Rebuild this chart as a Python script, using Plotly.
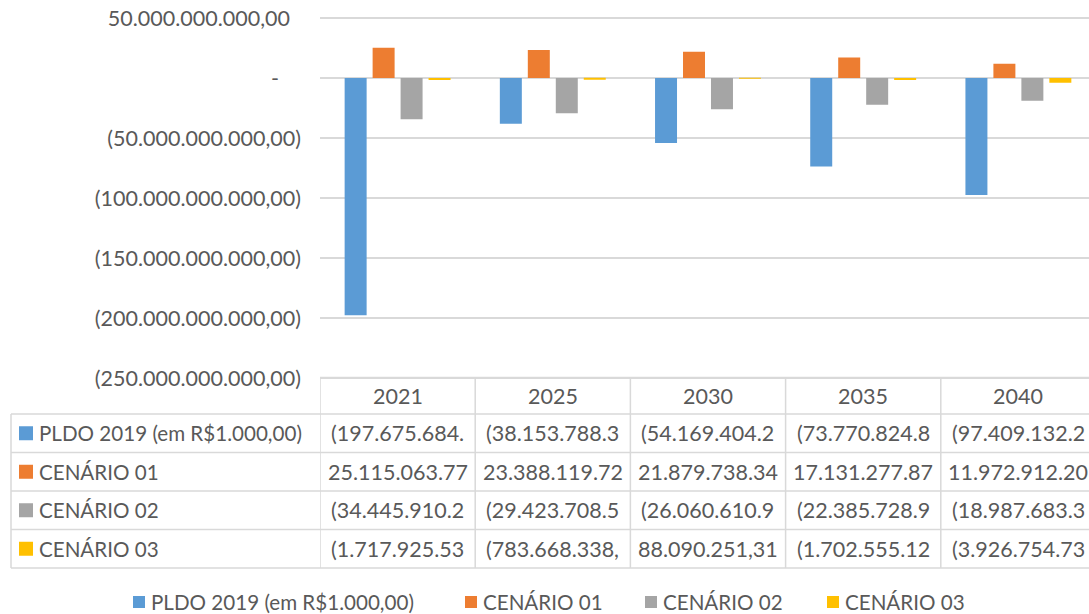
import plotly.graph_objects as go

# ---------------- data ----------------
categories = ["2021", "2025", "2030", "2035", "2040"]
series_names = ["PLDO 2019 (em R$1.000,00)", "CENÁRIO 01", "CENÁRIO 02", "CENÁRIO 03"]
pldo_2019 = [-197675684000, -38153788300, -54169404200, -73770824800, -97409132200]
cenario_01 = [25115063770, 23388119720, 21879738340, 17131277870, 11972912200]
cenario_02 = [-34445910200, -29423708500, -26060610900, -22385728900, -18987683300]
cenario_03 = [-1717925530, -783668338, 88090251.31, -1702555120, -3926754730]
y_tickvals = [50e9, 0, -50e9, -100e9, -150e9, -200e9, -250e9]

series_values = [pldo_2019, cenario_01, cenario_02, cenario_03]
colors = ["#5B9BD5", "#ED7D31", "#A5A5A5", "#FFC000"]

W, H = 1089, 614
FONT = "Lato"
FS = 21.5
FS_ROW = 20.6
TXT = "#595959"
GRID = "#D9D9D9"


def px(x):
    return x / W


def py(y):
    return 1 - y / H


NB = "\u00a0"


def fmt_br(v):
    s = f"{abs(v):,.2f}".replace(",", "X").replace(".", ",").replace("X", ".")
    return f"({s})" if v < 0 else s


def tick_label(v):
    if v == 0:
        return "-" + NB * 4
    if v > 0:
        return fmt_br(v) + NB * 2
    return fmt_br(v)


fig = go.Figure()
for name, vals, col in zip(series_names, series_values, colors):
    fig.add_trace(go.Bar(x=categories, y=vals, name=name, marker=dict(color=col, line=dict(width=0)),
                         showlegend=False))

# plot area in pixels (1.2 px per 1e9); range padded slightly so the top gridline shows
PL, PT, PB = 320, 18, 378
PAD = 1e9
fig.update_layout(
    width=W, height=H,
    margin=dict(l=0, r=0, t=0, b=0, autoexpand=False),
    paper_bgcolor="white", plot_bgcolor="white",
    barmode="group", bargap=0.279, bargroupgap=0.214,
    font=dict(family=FONT, size=FS, color=TXT),
    xaxis=dict(domain=[px(PL), 1], range=[-0.5, 4.455], showticklabels=False,
               showgrid=False, zeroline=False, showline=False, fixedrange=True,
               automargin=False),
    yaxis=dict(domain=[py(PB + 1.2), py(PT - 1.2)], range=[-250e9 - PAD, 50e9 + PAD],
               tickvals=y_tickvals, ticktext=[tick_label(v) for v in y_tickvals],
               showgrid=True, gridcolor=GRID, gridwidth=1.5,
               zeroline=True, zerolinecolor=GRID, zerolinewidth=1.5,
               showline=False, ticks="", ticklabelstandoff=18, automargin=False,
               tickfont=dict(family=FONT, size=FS, color=TXT)),
)

# ---------------- data table ----------------
row_edges = [377.5, 414, 452.5, 491, 529.5, 568]
LEFT = 11
shapes = []
line = dict(color=GRID, width=1.5)
# horizontal lines
shapes.append(dict(type="line", xref="x", yref="paper", x0=-0.5, x1=4.6,
                   y0=py(row_edges[0]), y1=py(row_edges[0]), line=line))
for ye in row_edges[1:]:
    shapes.append(dict(type="line", xref="paper", yref="paper", x0=px(LEFT), x1=1.01,
                       y0=py(ye), y1=py(ye), line=line))
# vertical lines
shapes.append(dict(type="line", xref="paper", yref="paper", x0=px(LEFT), x1=px(LEFT),
                   y0=py(row_edges[1]), y1=py(row_edges[-1]), line=line))
for i in range(len(categories)):
    shapes.append(dict(type="line", xref="x", yref="paper", x0=i - 0.5, x1=i - 0.5,
                       y0=py(row_edges[0]), y1=py(row_edges[-1]), line=line))

annotations = []
# header row
for i, c in enumerate(categories):
    annotations.append(dict(text=c, xref="x", yref="paper", x=i,
                            y=py((row_edges[0] + row_edges[1]) / 2),
                            showarrow=False, xanchor="center", yanchor="middle",
                            font=dict(family=FONT, size=FS, color=TXT)))
# body rows
for r, (name, vals, col) in enumerate(zip(series_names, series_values, colors)):
    yc = (row_edges[r + 1] + row_edges[r + 2]) / 2
    shapes.append(dict(type="rect", xref="paper", yref="paper", x0=px(19), x1=px(33),
                       y0=py(yc - 7), y1=py(yc + 7), fillcolor=col, line=dict(width=0)))
    annotations.append(dict(text=name, xref="paper", yref="paper", x=px(37), y=py(yc),
                            showarrow=False, xanchor="left", yanchor="middle",
                            font=dict(family=FONT, size=FS_ROW, color=TXT)))
    for i, v in enumerate(vals):
        annotations.append(dict(text=fmt_br(v)[:13], xref="x", yref="paper", x=i, y=py(yc),
                                showarrow=False, xanchor="center", yanchor="middle",
                                font=dict(family=FONT, size=FS, color=TXT)))

# ---------------- legend (bottom) ----------------
legend_x = [133, 465, 645, 827]
LY = 602
for name, col, lx in zip(series_names, colors, legend_x):
    shapes.append(dict(type="rect", xref="paper", yref="paper", x0=px(lx), x1=px(lx + 12),
                       y0=py(LY - 6), y1=py(LY + 6), fillcolor=col, line=dict(width=0)))
    annotations.append(dict(text=name, xref="paper", yref="paper", x=px(lx + 16), y=py(LY),
                            showarrow=False, xanchor="left", yanchor="middle",
                            font=dict(family=FONT, size=FS_ROW, color=TXT)))

fig.update_layout(shapes=shapes, annotations=annotations)
fig.write_html("out.html")
